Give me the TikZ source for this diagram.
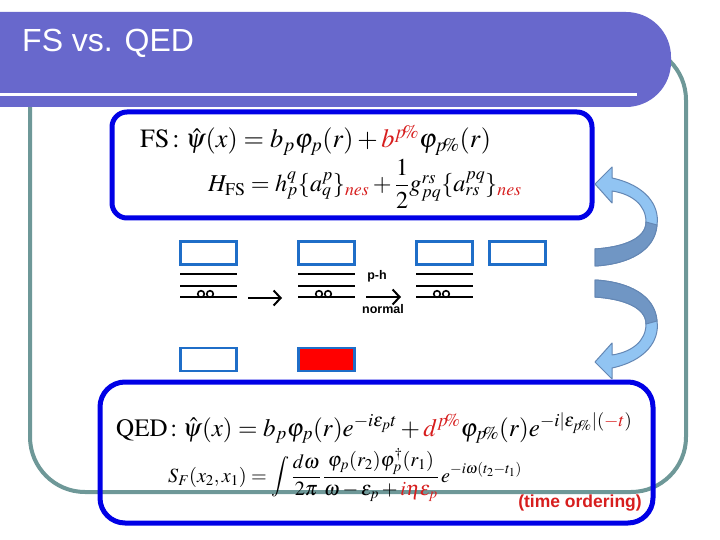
\documentclass[tikz,border=0pt]{standalone}
\usepackage{mathptmx}
\usepackage[no-math]{fontspec}
\setmainfont{Liberation Sans}
\newfontfamily\timesfont{Liberation Serif}
\usetikzlibrary{arrows.meta}
\definecolor{barcol}{RGB}{104,104,204}
\definecolor{tealframe}{RGB}{110,152,152}
\definecolor{boxblue}{RGB}{0,0,230}
\definecolor{smallblue}{RGB}{31,110,200}
\definecolor{eqred}{RGB}{215,30,30}
\definecolor{arrlight}{RGB}{145,196,242}
\definecolor{arrdark}{RGB}{112,150,196}
\definecolor{arredge}{RGB}{100,135,180}
\newcommand{\pp}{p\mkern-3mu\%}
\begin{document}
\begin{tikzpicture}[x=1pt,y=-1pt,
  bigbox/.style={draw=boxblue, line width=5pt, rounded corners=15pt, inner sep=0pt},
  smallbox/.style={draw=smallblue, line width=2.6pt, minimum width=56pt, minimum height=23pt, inner sep=0pt},
  levline/.style={line width=2.6pt, black},
  levarrow/.style={line width=1.1pt, -{Straight Barb[length=7pt, width=15pt, line width=2pt]}},
  lbl/.style={font=\bfseries\fontsize{12.5}{14}\selectfont, inner sep=0pt},
  eq/.style={inner sep=0pt, anchor=base west},
  curvarr/.style={fill=arrlight, draw=arredge, line width=1pt, line join=round},
  curvdark/.style={fill=arrdark, draw=arredge, line width=1pt, line join=round}]
\useasboundingbox (0,0) rectangle (720,540);
\fill[white] (0,0) rectangle (720,540);
% frame
\draw[tealframe, line width=4pt, rounded corners=55pt] (30,45) rectangle (686,492);
% title bar
\fill[barcol, rounded corners=45pt] (-60,12) rectangle (671,107);
\draw[white, line width=3pt] (-5,95) -- (637,95);
\node[anchor=west, text=white, font=\fontsize{32}{36}\selectfont, inner sep=0pt] (title) at (22,43) {FS vs. QED};
% FS box
\node[bigbox, minimum width=480pt, minimum height=106pt] (fsbox) at (352,165) {};
\node[eq, font=\fontsize{26.3}{30}\selectfont] (fs1) at (140,148)
  {$\mathrm{FS}\!:\hat\psi(x)=b_p\varphi_p(r)+{\color{eqred}b^{\pp}}\varphi_{\pp}(r)$};
\node[eq, font=\fontsize{24.2}{26}\selectfont] (fs2) at (208,192)
  {$H_{\mathrm{FS}}=h_p^q\{a_q^p\}_{\color{eqred}nes}+{\displaystyle\frac{1}{2}}g_{pq}^{rs}\{a_{rs}^{pq}\}_{\color{eqred}nes}$};
% QED box
\node[bigbox, rounded corners=25pt, minimum width=553pt, minimum height=141pt] (qedbox) at (376.5,452.5) {};
\node[eq, font=\fontsize{25}{30}\selectfont] (q1) at (116,436)
  {$\mathrm{QED}\!:\hat\psi(x)=b_p\varphi_p(r)e^{-i\varepsilon_pt}+{\color{eqred}d^{\pp}}\varphi_{\pp}(r)e^{-i|\varepsilon_{\pp}|({\color{eqred}-t})}$};
\node[eq, font=\fontsize{20.2}{24}\selectfont] (q2) at (168,482)
  {$\displaystyle S_F(x_2,x_1)=\int\frac{d\omega}{2\pi}\,\frac{\varphi_p(r_2)\varphi_p^\dagger(r_1)}{\omega-\varepsilon_p+{\color{eqred}i\eta\varepsilon_p}}\,e^{-i\omega(t_2-t_1)}$};
\node[font=\bfseries\fontsize{17.5}{20}\selectfont, text=eqred, inner sep=0pt] (tord) at (580,503) {(time ordering)};
% small boxes
\node[smallbox] (b1) at (208.5,253) {};
\node[smallbox] (b2) at (326.5,253) {};
\node[smallbox] (b3) at (444.5,253) {};
\node[smallbox] (b4) at (517.5,253) {};
\node[smallbox] (c1) at (208.5,359.5) {};
\node[smallbox, fill=red] (c2) at (326.5,359.5) {};
% levels
\foreach \x/\n in {180/1,298/2,416/3}{
  \coordinate (l\n a) at (\x,274);
  \coordinate (l\n b) at (\x,286);
  \coordinate (l\n c) at (\x,297);
  \draw[line width=1.6pt] ([xshift=21pt,yshift=3pt]l\n c) circle (3.3pt);
  \draw[line width=1.6pt] ([xshift=30pt,yshift=3pt]l\n c) circle (3.3pt);
  \draw[levline] (l\n a) -- ++(57,0);
  \draw[levline] (l\n b) -- ++(57,0);
  \draw[levline] (l\n c) -- ++(57,0);
}
% arrows
\coordinate (a1s) at (248,298);
\coordinate (a1e) at (282,298);
\draw[levarrow] (a1s) -- (a1e);
\coordinate (a2s) at (366,297);
\coordinate (a2e) at (401,297);
\draw[levarrow] (a2s) -- (a2e);
\node[lbl] (ph) at (377,276) {p-h};
\node[lbl] (nrm) at (383,309) {normal};
% curved arrows
\draw[curvarr] (595,184) -- (612,167) -- (612,178)
  .. controls (645,185) and (660,205) .. (657,225)
  .. controls (655,250) and (630,264) .. (595,266)
  -- (595,249)
  .. controls (625,247) and (646,238) .. (646,222)
  .. controls (646,205) and (632,194) .. (612,191)
  -- (612,203) -- cycle;
\draw[curvdark] (657,225) .. controls (655,250) and (630,264) .. (595,266)
  -- (595,249) .. controls (625,247) and (646,238) .. (646,222) -- cycle;
\draw[curvarr] (595,362) -- (612,379) -- (612,368)
  .. controls (645,361) and (660,341) .. (657,321)
  .. controls (655,296) and (630,282) .. (595,280)
  -- (595,297)
  .. controls (625,299) and (646,308) .. (646,324)
  .. controls (646,341) and (632,352) .. (612,355)
  -- (612,343) -- cycle;
\draw[curvdark] (657,321) .. controls (655,296) and (630,282) .. (595,280)
  -- (595,297) .. controls (625,299) and (646,308) .. (646,324) -- cycle;
\end{tikzpicture}
\end{document}
